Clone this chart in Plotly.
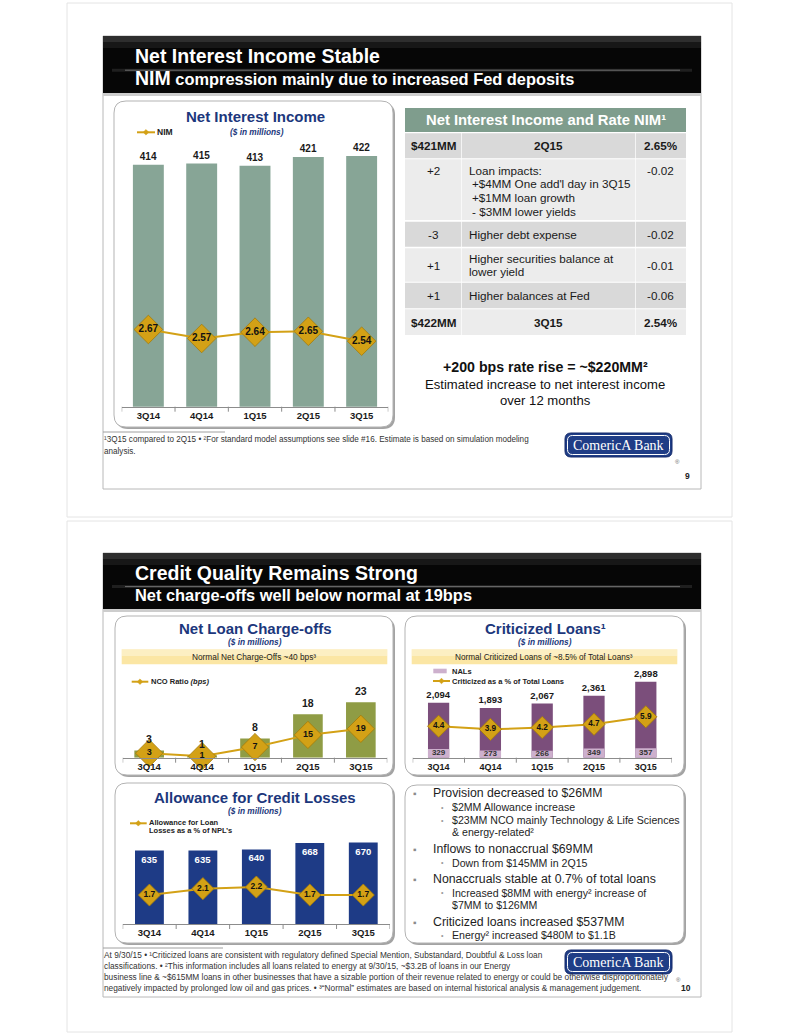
import plotly.graph_objects as go

W, H = 799, 1034
SANS = "Liberation Sans, Arial, Helvetica, sans-serif"
SERIF = "Liberation Serif, Times New Roman, serif"

# ---------------- data ----------------
quarters = ["3Q14", "4Q14", "1Q15", "2Q15", "3Q15"]
net_interest_income = [414, 415, 413, 421, 422]
nim = [2.67, 2.57, 2.64, 2.65, 2.54]
net_charge_offs = [3, 1, 8, 18, 23]
nco_ratio_bps = [3, 1, 7, 15, 19]
criticized_loans = [2094, 1893, 2067, 2361, 2898]
nals = [329, 273, 266, 349, 357]
criticized_pct = [4.4, 3.9, 4.2, 4.7, 5.9]
allowance = [635, 635, 640, 668, 670]
allowance_pct_npl = [1.7, 2.1, 2.2, 1.7, 1.7]

table_change = ["$421MM", "+2", "-3", "+1", "+1", "$422MM"]
table_desc = [["2Q15"],
              ["Loan impacts:", "+$4MM One add'l day in 3Q15", "+$1MM loan growth", "- $3MM lower yields"],
              ["Higher debt expense"],
              ["Higher securities balance at", "lower yield"],
              ["Higher balances at Fed"],
              ["3Q15"]]
table_nim = ["2.65%", "-0.02", "-0.02", "-0.01", "-0.06", "2.54%"]

bullets = [
    (0, "Provision decreased to $26MM"),
    (1, "$2MM Allowance increase"),
    (1, "$23MM NCO mainly Technology & Life Sciences"),
    (2, "& energy-related\u00b2"),
    (0, "Inflows to nonaccrual $69MM"),
    (1, "Down from $145MM in 2Q15"),
    (0, "Nonaccruals stable at 0.7% of total loans"),
    (1, "Increased $8MM with energy\u00b2 increase of"),
    (2, "$7MM to $126MM"),
    (0, "Criticized loans increased $537MM"),
    (1, "Energy\u00b2 increased $480M to $1.1B"),
]

# ---------------- helpers ----------------
def Xp(px): return px / W
def Yp(py): return 1 - py / H

shapes, ann = [], []

def rect(x0, y0, x1, y1, fill=None, line=None, lw=0, layer="below"):
    shapes.append(dict(type="rect", xref="paper", yref="paper", x0=Xp(x0), x1=Xp(x1),
                       y0=Yp(y1), y1=Yp(y0), fillcolor=fill or "rgba(0,0,0,0)",
                       line=dict(color=line or "rgba(0,0,0,0)", width=lw), layer=layer))

def seg(x0, y0, x1, y1, color, width=1, layer="below"):
    shapes.append(dict(type="line", xref="paper", yref="paper", x0=Xp(x0), x1=Xp(x1),
                       y0=Yp(y0), y1=Yp(y1), line=dict(color=color, width=width), layer=layer))

def rrect(x0, y0, x1, y1, r, fill=None, line=None, lw=0):
    rx, ry = r / W, r / H
    X0, X1, Y0, Y1 = Xp(x0), Xp(x1), Yp(y0), Yp(y1)
    p = (f"M{X0+rx},{Y0} L{X1-rx},{Y0} Q{X1},{Y0} {X1},{Y0-ry} L{X1},{Y1+ry} "
         f"Q{X1},{Y1} {X1-rx},{Y1} L{X0+rx},{Y1} Q{X0},{Y1} {X0},{Y1+ry} "
         f"L{X0},{Y0-ry} Q{X0},{Y0} {X0+rx},{Y0} Z")
    shapes.append(dict(type="path", xref="paper", yref="paper", path=p,
                       fillcolor=fill or "rgba(0,0,0,0)",
                       line=dict(color=line or "rgba(0,0,0,0)", width=lw), layer="below"))

def diamond_icon(cx, cy, r, color):
    p = (f"M{Xp(cx-r)},{Yp(cy)} L{Xp(cx)},{Yp(cy-r)} L{Xp(cx+r)},{Yp(cy)} "
         f"L{Xp(cx)},{Yp(cy+r)} Z")
    shapes.append(dict(type="path", xref="paper", yref="paper", path=p, fillcolor=color,
                       line=dict(color=color, width=0.5), layer="below"))

def T(x, y, s, size, color="#222222", weight="normal", style="normal", xa="center",
      family=SANS):
    ann.append(dict(x=Xp(x), y=Yp(y), xref="paper", yref="paper", text=s, showarrow=False,
                    xanchor=xa, yanchor="middle", align="left" if xa == "left" else "center",
                    borderpad=0,
                    font=dict(size=size, color=color, family=family, weight=weight, style=style)))

GOLD = "#d3a116"
GOLD_EDGE = "#a57b08"
NAVY = "#1c377c"

# ---------------- page frames / slides ----------------
rect(67, 3, 732, 517, line="#e4e4e4", lw=1)
rect(67, 521, 732, 1032, line="#e4e4e4", lw=1)

def slide(y0, y1, ybot, title, sub):
    rect(103, y0, 701, ybot, fill="white", line="#b8b8b8", lw=1)
    rect(103, y0, 701, y1, fill="#060606")
    rect(103, y0, 701, y0 + 6, fill="rgba(255,255,255,0.16)")
    rect(103, y0 + 6, 701, y0 + 12, fill="rgba(255,255,255,0.07)")
    mid = y0 + (y1 - y0) * 0.6
    rect(112, mid - 1.5, 692, mid + 1.5, fill="rgba(255,255,255,0.10)")
    seg(125, mid, 680, mid, "rgba(255,255,255,0.35)", 1)
    rect(103, y1, 701, y1 + 3, fill="#cdcdcd")
    T(134, y0 + 19.5, title, 19.5, color="white", weight="bold", xa="left")
    T(134, y0 + 42, sub, 16.4, color="white", weight="bold", xa="left")

slide(36, 93, 489, "Net Interest Income Stable",
      "<span style='font-size:19.5px'>NIM</span> compression mainly due to increased Fed deposits")
slide(553, 609, 997, "Credit Quality Remains Strong",
      "Net charge-offs well below normal at 19bps")

def panel(x0, y0, x1, y1):
    rrect(x0 + 2, y0 + 2, x1 + 2, y1 + 2, 12, fill="#a3a3a3")
    rrect(x0, y0, x1, y1, 12, fill="white", line="#b3b3b3", lw=1)

panel(114, 101, 393, 427)
panel(115, 616, 393, 775)
panel(405, 616, 684, 775)
panel(115, 783, 393, 943)
panel(405, 785, 684, 943)

# ---------------- logos / page numbers / footnotes ----------------
def logo(x0, y0, x1, y1):
    rrect(x0, y0, x1, y1, 6, fill="#1f3d86", line="#13296a", lw=1)
    rrect(x0 + 2.5, y0 + 2.5, x1 - 2.5, y1 - 2.5, 5, line="white", lw=1)
    T((x0 + x1) / 2, (y0 + y1) / 2 + 0.5, "ComericA Bank", 14, color="white", family=SERIF)

logo(565, 433, 672, 457)
T(677, 462, "®", 6, color="#666")
T(687, 476, "9", 8.5, color="#222", weight="bold")
logo(565, 950, 672, 974)
T(678, 980, "®", 6, color="#666")
T(686, 988, "10", 8.5, color="#222", weight="bold")

seg(103, 432, 225, 432, "#a0a0a0", 1)
T(103, 440, "\u00b93Q15 compared to 2Q15 \u2022 \u00b2For standard model assumptions see slide #16. Estimate is based on simulation modeling",
  8.15, color="#333", xa="left")
T(103, 451, "analysis.", 8.15, color="#333", xa="left")

seg(103, 948, 223, 948, "#a0a0a0", 1)
foot2 = [
    "At 9/30/15 \u2022 \u00b9Criticized loans are consistent with regulatory defined Special Mention, Substandard, Doubtful & Loss loan",
    "classifications. \u2022 \u00b2This information includes all loans related to energy at 9/30/15, ~$3.2B of loans in our Energy",
    "business line & ~$615MM loans in other businesses that have a sizable portion of their revenue related to energy or could be otherwise disproportionately",
    "negatively impacted by prolonged low oil and gas prices. \u2022 \u00b3\u201cNormal\u201d estimates are based on internal historical analysis & management judgement.",
]
for i, s in enumerate(foot2):
    T(103, 955 + i * 11, s, 8.3, color="#333", xa="left")

# ---------------- table ----------------
rect(405, 108, 686, 132, fill="#7f9d8d")
T(545.5, 120, "Net Interest Income and Rate NIM\u00b9", 14.8, color="white", weight="bold")
rows_y = [(133.3, 158.3), (159.3, 220), (221.7, 246.7), (248.3, 281.7), (282.7, 308.3), (309.3, 335)]
cols_x = [(405, 461), (461.7, 635), (635.7, 686)]
for i, (ya, yb) in enumerate(rows_y):
    fill = "#d9d9d9" if i % 2 == 0 else "#ececec"
    for (xa_, xb_) in cols_x:
        rect(xa_, ya, xb_, yb, fill=fill)
    bold = "bold" if i in (0, len(rows_y) - 1) else "normal"
    desc = table_desc[i]
    n = len(desc)
    pitch = 13.8
    if n > 2:
        first = ya + 10.7
    else:
        first = (ya + yb) / 2 - pitch * (n - 1) / 2
    side_y = first if n > 2 else (ya + yb) / 2
    T((cols_x[0][0] + cols_x[0][1]) / 2, side_y, table_change[i], 11.7, color="#1a1a1a", weight=bold)
    T((cols_x[2][0] + cols_x[2][1]) / 2, side_y, table_nim[i], 11.7, color="#1a1a1a", weight=bold)
    for j, line in enumerate(desc):
        if bold == "bold":
            T(548.3, first, line, 11.7, color="#1a1a1a", weight="bold")
        else:
            xx = 467.7 if (j == 0 or n <= 2) else 471
            T(xx, first + j * pitch, line, 11.7, color="#1a1a1a", xa="left")

T(545, 367, "+200 bps rate rise = ~$220MM\u00b2", 14.2, color="#111", weight="bold")
T(545, 384, "Estimated increase to net interest income", 13.1, color="#111")
T(545, 400, "over 12 months", 13.1, color="#111")

# ---------------- chart axes ----------------
axes = {}

def setup(k, x0, x1, ybot, ytop, r1, r2, tsize):
    xa = "xaxis" if k == 1 else f"xaxis{k}"
    n1, n2 = 2 * k - 1, 2 * k
    ya1 = "yaxis" if n1 == 1 else f"yaxis{n1}"
    ya2 = f"yaxis{n2}"
    xref = "x" if k == 1 else f"x{k}"
    y1ref = "y" if n1 == 1 else f"y{n1}"
    y2ref = f"y{n2}"
    axes[xa] = dict(domain=[Xp(x0), Xp(x1)], anchor=y1ref, type="category",
                    range=[-0.5, len(quarters) - 0.5], showline=True, linecolor="#8c8c8c",
                    linewidth=1, ticks="", showgrid=False, zeroline=False, fixedrange=True,
                    tickfont=dict(size=tsize, color="#1a1a1a", family=SANS, weight="bold"))
    axes[ya1] = dict(domain=[Yp(ybot), Yp(ytop)], anchor=xref, range=r1, visible=False,
                     showgrid=False, zeroline=False, fixedrange=True)
    axes[ya2] = dict(overlaying=y1ref, anchor=xref, range=r2, visible=False,
                     showgrid=False, zeroline=False, fixedrange=True)
    for i in range(len(quarters) + 1):
        shapes.append(dict(type="line", xref=xref, yref="paper", x0=i - 0.5, x1=i - 0.5,
                           y0=Yp(ybot), y1=Yp(ybot + 5), line=dict(color="#8c8c8c", width=1)))
    return xref, y1ref, y2ref

c1 = setup(1, 121.7, 388.3, 406.7, 140, [194, 194 + 266.7 / 1.1], [1.812, 1.812 + 266.7 / 90], 9.5)
c2 = setup(2, 122.7, 387.3, 757.7, 690, [0, 67.7 / 2.41], [0, 67.7 / 1.52], 9.5)
c3 = setup(3, 412.7, 671.7, 757.7, 670, [0, 87.7 / 0.02622], [-0.6, -0.6 + 87.7 / 6.3], 9)
c4 = setup(4, 122.7, 390, 924, 835, [314, 314 + 89 / 0.2286], [-0.11, -0.11 + 89 / 16], 9.5)

fig = go.Figure()

def diamond_line(y, ref, yref, size, fsize, fmt):
    fig.add_trace(go.Scatter(
        x=quarters, y=y, xaxis=ref, yaxis=yref, mode="lines+markers+text",
        text=[fmt.format(v) for v in y], textposition="middle center",
        textfont=dict(size=fsize, color="#111", family=SANS, weight="bold"),
        line=dict(color=GOLD, width=2),
        marker=dict(symbol="diamond", size=size, color=GOLD, line=dict(color=GOLD_EDGE, width=0.8)),
        cliponaxis=False, hoverinfo="skip"))

# Chart 1: Net interest income
fig.add_trace(go.Bar(x=quarters, y=net_interest_income, xaxis=c1[0], yaxis=c1[1], width=0.58,
                     marker=dict(color="#87a596", line=dict(width=0)),
                     text=[str(v) for v in net_interest_income], textposition="outside",
                     constraintext="none", cliponaxis=False,
                     textfont=dict(size=10, color="#1a1a1a", family=SANS, weight="bold")))
diamond_line(nim, c1[0], c1[2], 22, 10, "{:.2f}")
T(255.8, 116.7, "Net Interest Income", 15, color=NAVY, weight="bold")
T(257, 131.7, "($ in millions)", 8.3, color=NAVY, weight="bold", style="italic")
seg(137, 132.3, 155, 132.3, GOLD, 2)
diamond_icon(146, 132.3, 2.8, GOLD)
T(156, 132.3, "NIM", 8.5, color="#222", weight="bold", xa="left")

# Chart 2: Net loan charge-offs (value labels as axis-referenced annotations, drawn on top)
fig.add_trace(go.Bar(x=quarters, y=net_charge_offs, xaxis=c2[0], yaxis=c2[1], width=0.56,
                     marker=dict(color="#8f9c45", line=dict(width=0))))
diamond_line(nco_ratio_bps, c2[0], c2[2], 21, 9, "{:d}")
for q, v in zip(quarters, net_charge_offs):
    ann.append(dict(x=q, y=v, xref=c2[0], yref=c2[1], text=str(v), showarrow=False,
                    yanchor="bottom", yshift=4, borderpad=0,
                    font=dict(size=10.5, color="#1a1a1a", family=SANS, weight="bold")))
T(255, 628.3, "Net Loan Charge-offs", 15, color=NAVY, weight="bold")
T(255, 642.3, "($ in millions)", 8.3, color=NAVY, weight="bold", style="italic")
rect(121.7, 649.3, 387.3, 664.3, fill="#fbe6a4")
rect(121.7, 649.3, 387.3, 656, fill="rgba(255,255,255,0.35)")
T(254, 657, "Normal Net Charge-Offs ~40 bps\u00b3", 8.3, color="#222")
seg(131.7, 681.7, 148.3, 681.7, GOLD, 2)
diamond_icon(140, 681.7, 2.8, GOLD)
T(150, 681.7, "NCO Ratio <i>(bps)</i>", 7.5, color="#222", weight="bold", xa="left")

# Chart 3: Criticized loans
fig.add_trace(go.Bar(x=quarters, y=criticized_loans, xaxis=c3[0], yaxis=c3[1], width=0.41,
                     marker=dict(color="#7b4e7b", line=dict(width=0)),
                     text=[f"{v:,}" for v in criticized_loans], textposition="outside",
                     constraintext="none", cliponaxis=False,
                     textfont=dict(size=9.5, color="#1a1a1a", family=SANS, weight="bold")))
fig.add_trace(go.Bar(x=quarters, y=nals, xaxis=c3[0], yaxis=c3[1], width=0.41,
                     marker=dict(color="#cdb0cd", line=dict(width=0))))
fig.add_trace(go.Scatter(x=quarters, y=[v / 2 for v in nals], xaxis=c3[0], yaxis=c3[1],
                         mode="text", text=[str(v) for v in nals], textposition="middle center",
                         textfont=dict(size=8, color="#333", family=SANS, weight="bold"),
                         cliponaxis=False, hoverinfo="skip"))
diamond_line(criticized_pct, c3[0], c3[2], 17, 8.2, "{:.1f}")
T(545, 628.3, "Criticized Loans\u00b9", 15, color=NAVY, weight="bold")
T(545, 642.3, "($ in millions)", 8.3, color=NAVY, weight="bold", style="italic")
rect(411.7, 649.3, 677.3, 664.3, fill="#fbe6a4")
rect(411.7, 649.3, 677.3, 656, fill="rgba(255,255,255,0.35)")
T(544, 657, "Normal Criticized Loans of ~8.5% of Total Loans\u00b3", 8.2, color="#222")
rect(433.3, 668.7, 446.7, 673.3, fill="#cdb0cd")
T(450.7, 671, "NALs", 7.5, color="#222", weight="bold", xa="left")
seg(433, 681, 450, 681, GOLD, 2)
diamond_icon(441.5, 681, 2.8, GOLD)
T(450.7, 681, "Criticized as a % of Total Loans", 7.5, color="#222", weight="bold", xa="left")

# Chart 4: Allowance for credit losses
fig.add_trace(go.Bar(x=quarters, y=allowance, xaxis=c4[0], yaxis=c4[1], width=0.54,
                     marker=dict(color="#1e3b86", line=dict(width=0)),
                     text=[str(v) for v in allowance], textposition="inside",
                     insidetextanchor="end", constraintext="none",
                     textfont=dict(size=9.5, color="white", family=SANS, weight="bold")))
diamond_line(allowance_pct_npl, c4[0], c4[2], 17, 8.5, "{:.1f}")
T(255, 797.3, "Allowance for Credit Losses", 15, color=NAVY, weight="bold")
T(255, 811, "($ in millions)", 8.3, color=NAVY, weight="bold", style="italic")
seg(130, 823.3, 146.7, 823.3, GOLD, 2)
diamond_icon(138.3, 823.3, 2.8, GOLD)
T(147.7, 822.7, "Allowance for Loan", 7.5, color="#222", weight="bold", xa="left")
T(147.7, 830.7, "Losses as a % of NPL\u2019s", 7.5, color="#222", weight="bold", xa="left")

# ---------------- bullet text ----------------
bullet_y = [793.3, 807, 820, 831.7, 849.3, 862.7, 879, 892.7, 905, 922.3, 935]
for (lvl, s), yy in zip(bullets, bullet_y):
    if lvl == 0:
        T(415, yy, "\u25aa", 10, color="#8c8c8c")
        T(432.3, yy, s, 12.3, color="#1e1e1e", xa="left")
    else:
        if lvl == 1:
            T(443, yy, "\u2022", 7, color="#9a9a9a")
        T(450.7, yy, s, 10.6, color="#1e1e1e", xa="left")

axes.update(dict(width=W, height=H, margin=dict(l=0, r=0, t=0, b=0),
                 paper_bgcolor="white", plot_bgcolor="rgba(0,0,0,0)", showlegend=False,
                 barmode="overlay", hovermode=False, font=dict(family=SANS),
                 shapes=shapes, annotations=ann))
fig.update_layout(**axes)
fig.write_html("out.html", config={"displayModeBar": False},
               post_script="document.body.style.margin='0px';document.body.style.padding='0px';")
